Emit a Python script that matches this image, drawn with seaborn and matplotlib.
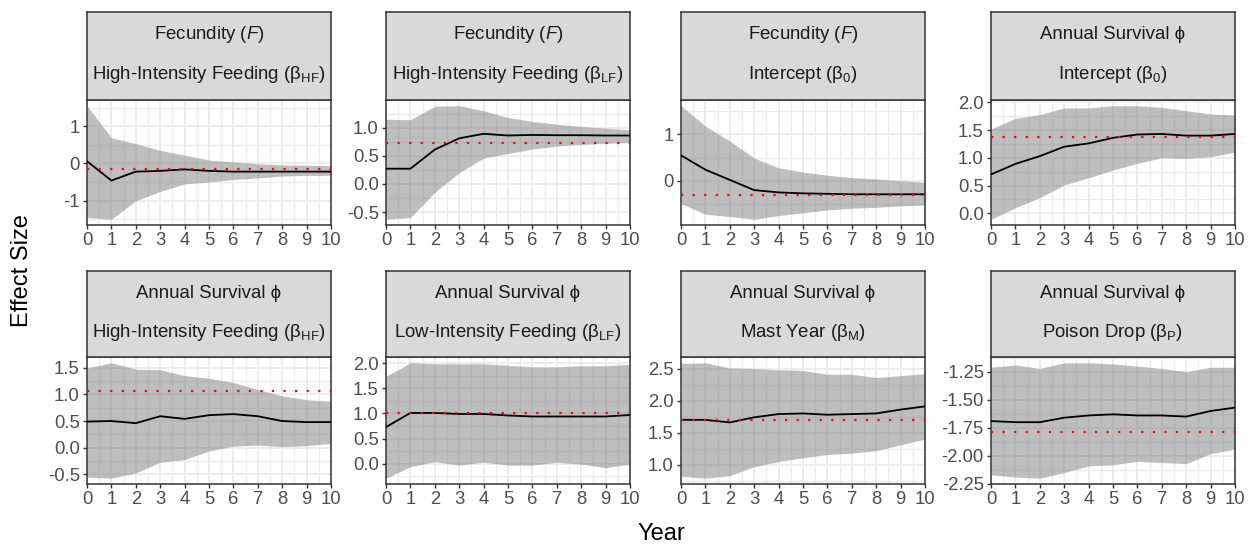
import numpy as np
import pandas as pd
import matplotlib
matplotlib.use("Agg")
import matplotlib.pyplot as plt
import seaborn as sns
from matplotlib.ticker import MultipleLocator, FormatStrFormatter

# ---------------- data ----------------
years = list(range(11))

# Fecundity, high-intensity feeding
f_hf_mean = [0.06, -0.46, -0.22, -0.20, -0.16, -0.20, -0.22, -0.22, -0.22, -0.22, -0.22]
f_hf_lo = [-1.45, -1.50, -1.00, -0.75, -0.55, -0.50, -0.43, -0.39, -0.34, -0.32, -0.32]
f_hf_hi = [1.55, 0.69, 0.53, 0.35, 0.22, 0.09, 0.04, -0.01, -0.04, -0.05, -0.06]
f_hf_true = -0.14

# Fecundity, low-intensity feeding
f_lf_mean = [0.27, 0.27, 0.61, 0.81, 0.89, 0.86, 0.87, 0.865, 0.865, 0.86, 0.86]
f_lf_lo = [-0.63, -0.60, -0.15, 0.20, 0.46, 0.54, 0.62, 0.67, 0.70, 0.72, 0.74]
f_lf_hi = [1.15, 1.14, 1.38, 1.39, 1.30, 1.18, 1.11, 1.06, 1.02, 0.99, 0.96]
f_lf_true = 0.735

# Fecundity, intercept
f_b0_mean = [0.55, 0.24, 0.02, -0.20, -0.25, -0.27, -0.28, -0.29, -0.29, -0.29, -0.29]
f_b0_lo = [-0.49, -0.72, -0.77, -0.83, -0.75, -0.69, -0.63, -0.59, -0.57, -0.54, -0.52]
f_b0_hi = [1.62, 1.18, 0.86, 0.49, 0.28, 0.19, 0.12, 0.07, 0.04, 0.00, -0.03]
f_b0_true = -0.30

# Survival, intercept
s_b0_mean = [0.70, 0.89, 1.03, 1.20, 1.26, 1.36, 1.42, 1.43, 1.40, 1.40, 1.43]
s_b0_lo = [-0.11, 0.10, 0.28, 0.51, 0.64, 0.78, 0.90, 1.00, 0.99, 1.02, 1.10]
s_b0_hi = [1.52, 1.71, 1.78, 1.90, 1.90, 1.94, 1.94, 1.91, 1.85, 1.79, 1.77]
s_b0_true = 1.37

# Survival, high-intensity feeding
s_hf_mean = [0.49, 0.50, 0.46, 0.59, 0.54, 0.61, 0.63, 0.59, 0.50, 0.48, 0.48]
s_hf_lo = [-0.55, -0.57, -0.47, -0.27, -0.22, -0.06, 0.03, 0.05, 0.02, 0.04, 0.08]
s_hf_hi = [1.49, 1.59, 1.47, 1.46, 1.35, 1.30, 1.22, 1.09, 0.97, 0.90, 0.87]
s_hf_true = 1.06

# Survival, low-intensity feeding
s_lf_mean = [0.73, 1.01, 1.01, 0.99, 0.99, 0.96, 0.94, 0.94, 0.94, 0.94, 0.97]
s_lf_lo = [-0.29, -0.06, 0.04, -0.03, 0.03, -0.03, -0.03, 0.03, -0.01, -0.08, -0.01]
s_lf_hi = [1.74, 2.01, 1.99, 1.99, 1.99, 1.96, 1.93, 1.93, 1.95, 1.95, 1.98]
s_lf_true = 1.00

# Survival, mast year
s_m_mean = [1.70, 1.70, 1.66, 1.74, 1.79, 1.80, 1.78, 1.79, 1.80, 1.86, 1.91]
s_m_lo = [0.82, 0.79, 0.83, 0.97, 1.05, 1.11, 1.16, 1.18, 1.22, 1.31, 1.40]
s_m_hi = [2.58, 2.59, 2.51, 2.50, 2.48, 2.47, 2.41, 2.41, 2.36, 2.39, 2.42]
s_m_true = 1.70

# Survival, poison drop
s_p_mean = [-1.69, -1.70, -1.70, -1.66, -1.64, -1.63, -1.64, -1.64, -1.65, -1.60, -1.57]
s_p_lo = [-2.17, -2.19, -2.20, -2.15, -2.09, -2.08, -2.05, -2.06, -2.07, -1.98, -1.94]
s_p_hi = [-1.21, -1.19, -1.22, -1.17, -1.17, -1.18, -1.20, -1.22, -1.25, -1.21, -1.21]
s_p_true = -1.79

strip_line1 = ["Fecundity ($F$)", "Fecundity ($F$)", "Fecundity ($F$)", "Annual Survival \u03d5",
               "Annual Survival \u03d5", "Annual Survival \u03d5", "Annual Survival \u03d5", "Annual Survival \u03d5"]
strip_line2 = ["High-Intensity Feeding (\u03b2$_{\\mathrm{HF}}$)",
               "High-Intensity Feeding (\u03b2$_{\\mathrm{LF}}$)",
               "Intercept (\u03b2$_{0}$)",
               "Intercept (\u03b2$_{0}$)",
               "High-Intensity Feeding (\u03b2$_{\\mathrm{HF}}$)",
               "Low-Intensity Feeding (\u03b2$_{\\mathrm{LF}}$)",
               "Mast Year (\u03b2$_{\\mathrm{M}}$)",
               "Poison Drop (\u03b2$_{\\mathrm{P}}$)"]

y_major_steps = [1, 0.5, 1, 0.5, 0.5, 0.5, 0.5, 0.25]
y_formats = ["%d", "%.1f", "%d", "%.1f", "%.1f", "%.1f", "%.1f", "%.2f"]

panels = [
    (f_hf_mean, f_hf_lo, f_hf_hi, f_hf_true),
    (f_lf_mean, f_lf_lo, f_lf_hi, f_lf_true),
    (f_b0_mean, f_b0_lo, f_b0_hi, f_b0_true),
    (s_b0_mean, s_b0_lo, s_b0_hi, s_b0_true),
    (s_hf_mean, s_hf_lo, s_hf_hi, s_hf_true),
    (s_lf_mean, s_lf_lo, s_lf_hi, s_lf_true),
    (s_m_mean, s_m_lo, s_m_hi, s_m_true),
    (s_p_mean, s_p_lo, s_p_hi, s_p_true),
]

# ---------------- style ----------------
sns.set_style("white")
plt.rcParams["font.family"] = ["Liberation Sans", "DejaVu Sans"]
plt.rcParams["mathtext.fontset"] = "custom"
plt.rcParams["mathtext.rm"] = "Liberation Sans"
plt.rcParams["mathtext.it"] = "Liberation Sans:italic"
plt.rcParams["mathtext.bf"] = "Liberation Sans:bold"
plt.rcParams["axes.unicode_minus"] = False

W, H = 1258, 548
fig = plt.figure(figsize=(W / 100, H / 100), dpi=100)

col_left = [87, 386, 681, 991]
col_w = 244
rows = [  # (strip_top, plot_top, plot_bottom)
    (12, 100, 225),
    (271, 357, 484),
]

border = "#333333"
tick_col = "#4D4D4D"

for i, (mean, lo, hi, true) in enumerate(panels):
    r, c = divmod(i, 4)
    st, pt, pb = rows[r]
    x0 = col_left[c]
    ax = fig.add_axes([x0 / W, 1 - pb / H, col_w / W, (pb - pt) / H])
    sax = fig.add_axes([x0 / W, 1 - pt / H, col_w / W, (pt - st) / H])

    df = pd.DataFrame({"Year": years, "mean": mean, "lo": lo, "hi": hi})
    ax.set_facecolor("white")
    ax.fill_between(df["Year"], df["lo"], df["hi"], color="#7F7F7F", alpha=0.5,
                    linewidth=0, zorder=2)
    sns.lineplot(data=df, x="Year", y="mean", ax=ax, color="black", linewidth=1.3,
                 zorder=3)
    ax.axhline(true, color="red", linewidth=1.6, linestyle=(0, (1, 4.2)), zorder=4)

    vmin = min(min(lo), true)
    vmax = max(max(hi), true)
    rng = vmax - vmin
    ax.set_ylim(vmin - 0.05 * rng, vmax + 0.05 * rng)
    ax.set_xlim(0, 10)

    step = y_major_steps[i]
    ax.yaxis.set_major_locator(MultipleLocator(step))
    ax.yaxis.set_minor_locator(MultipleLocator(step / 2))
    ax.yaxis.set_major_formatter(FormatStrFormatter(y_formats[i]))
    ax.xaxis.set_major_locator(MultipleLocator(1))
    ax.xaxis.set_minor_locator(MultipleLocator(0.5))
    ax.grid(True, which="major", color="#EBEBEB", linewidth=1.3, zorder=0)
    ax.grid(True, which="minor", color="#EBEBEB", linewidth=1.0, zorder=0)
    ax.set_axisbelow(True)

    ax.tick_params(axis="both", which="major", length=3.2, width=1.0, color=border,
                   labelcolor=tick_col, labelsize=13.3, pad=2,
                   bottom=True, left=True)
    ax.tick_params(axis="both", which="minor", length=0)
    ax.set_xlabel("")
    ax.set_ylabel("")
    for sp in ax.spines.values():
        sp.set_color(border)
        sp.set_linewidth(1.1)
        sp.set_visible(True)

    sax.set_facecolor("#D9D9D9")
    sax.set_xticks([])
    sax.set_yticks([])
    for sp in sax.spines.values():
        sp.set_color(border)
        sp.set_linewidth(1.1)
        sp.set_visible(True)
    sax.text(0.5, 0.74, strip_line1[i], ha="center", va="center", fontsize=13.4,
             color="#1A1A1A", transform=sax.transAxes)
    sax.text(0.5, 0.29, strip_line2[i], ha="center", va="center", fontsize=13.4,
             color="#1A1A1A", transform=sax.transAxes)

fig.text(661 / W, 1 - 534 / H, "Year", ha="center", va="center", fontsize=17,
         color="black")
fig.text(22 / W, 1 - 271 / H, "Effect Size", ha="center", va="center", fontsize=17,
         rotation=90, color="black")

fig.savefig("out.png", dpi=100)
